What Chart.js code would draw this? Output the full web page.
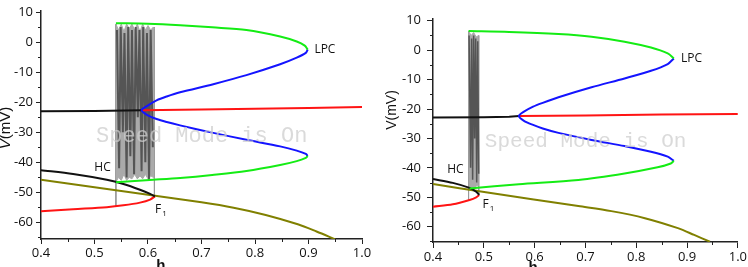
<!DOCTYPE html>
<html>
<head>
<meta charset="utf-8">
<script src="https://cdn.jsdelivr.net/npm/chart.js@4.4.1/dist/chart.umd.min.js"></script>
<style>
  html, body { margin: 0; padding: 0; background: #fff; }
  #wrap { position: relative; width: 748px; height: 267px; }
  canvas { position: absolute; top: 0; }
  #chartLeft { left: 0; }
  #chartRight { left: 374px; }
</style>
</head>
<body>
<div id="wrap">
  <canvas id="chartLeft" width="374" height="267"></canvas>
  <canvas id="chartRight" width="374" height="267"></canvas>
</div>
<script>
// axis ticks (shared by both panels)
var hTicks = [0.4, 0.5, 0.6, 0.7, 0.8, 0.9, 1.0];
var hMinorTicks = [0.45, 0.55, 0.65, 0.75, 0.85, 0.95];
var vTicks = [-60, -50, -40, -30, -20, -10, 0, 10];
var vMinorTicks = [-65, -55, -45, -35, -25, -15, -5, 5];

var watermarkText = 'Speed Mode is On';
var noteLabels = ['LPC', 'HC', 'F'];

// ---- left panel ----
var leftMidBlackH = [0.4, 0.5, 0.588];
var leftMidBlackV = [-23.0, -22.9, -22.7];
var leftMidRedH = [0.588, 0.7, 0.8, 0.9, 1.0];
var leftMidRedV = [-22.7, -22.4, -22.2, -21.9, -21.6];
var leftBlueH = [0.8985, 0.895, 0.878, 0.847, 0.784, 0.722, 0.66, 0.635, 0.616, 0.598, 0.588,
                 0.598, 0.616, 0.635, 0.66, 0.722, 0.784, 0.847, 0.878, 0.895, 0.8985];
var leftBlueV = [-2.5, -3.6, -5.2, -7.4, -11.0, -14.0, -16.7, -18.1, -19.4, -21.3, -22.7,
                 -24.2, -25.6, -26.6, -27.7, -30.2, -32.5, -34.7, -36.1, -37.2, -37.9];
var leftGreenUpH = [0.8985, 0.893, 0.878, 0.847, 0.784, 0.72, 0.66, 0.6, 0.54];
var leftGreenUpV = [-2.5, -1.2, 0.2, 1.85, 4.0, 4.9, 5.6, 6.1, 6.3];
var leftGreenLowH = [0.8985, 0.895, 0.878, 0.847, 0.784, 0.72, 0.66, 0.61, 0.54];
var leftGreenLowV = [-37.9, -38.5, -39.6, -40.9, -42.9, -44.2, -45.2, -45.8, -46.6];
var leftHcH = [0.4, 0.46, 0.523, 0.554, 0.585, 0.604, 0.613];
var leftHcV = [-42.6, -43.9, -45.8, -47.2, -49.1, -50.5, -51.3];
var leftRedLowH = [0.4, 0.46, 0.523, 0.554, 0.585, 0.604, 0.613];
var leftRedLowV = [-56.3, -55.6, -54.9, -54.3, -53.4, -52.4, -51.3];
var leftOliveH = [0.4, 0.5, 0.6, 0.7, 0.76, 0.82, 0.88, 0.915, 0.95];
var leftOliveV = [-45.8, -48.3, -50.8, -53.3, -55.1, -57.5, -60.6, -63.0, -65.6];
// bursting trace
var leftBandH = [0.54, 0.545, 0.55, 0.555, 0.56, 0.565, 0.57, 0.575, 0.58, 0.585, 0.59, 0.595, 0.6, 0.605, 0.61, 0.612];
var leftBandTopV = [6, 4, 6, 3.5, 6, 4.5, 6, 4, 6, 3.5, 6, 4, 5.5, 4, 5, 4.5];
var leftBandLowV = [-46.5, -45, -46, -44, -46, -45, -45.5, -44, -45.5, -44.5, -45.5, -44, -45.5, -44.5, -45, -45.5];
var leftSpikeH = [0.542, 0.546, 0.549, 0.553, 0.556, 0.560, 0.563, 0.567, 0.570, 0.574,
                  0.577, 0.581, 0.584, 0.588, 0.591, 0.595, 0.598, 0.602, 0.605, 0.609];
var leftSpikeV = [4, -42, 5, -30, 3, -45, 5, -38, 4, -44, 5, -25, 4, -43, 5, -40, 3, -46, 4, -35];
var leftEdgeStartH = [0.54, 0.54];
var leftEdgeStartV = [6, -54.5];
var leftEdgeEndH = [0.612, 0.612];
var leftEdgeEndV = [5, -51.3];

// ---- right panel ----
var rightMidBlackH = [0.4, 0.5, 0.55, 0.569];
var rightMidBlackV = [-22.9, -22.8, -22.6, -22.4];
var rightMidRedH = [0.569, 0.7, 0.85, 1.0];
var rightMidRedV = [-22.4, -22.2, -21.9, -21.7];
var rightBlueH = [0.874, 0.862, 0.829, 0.777, 0.712, 0.647, 0.616, 0.597, 0.579, 0.569,
                  0.579, 0.597, 0.616, 0.647, 0.712, 0.777, 0.829, 0.862, 0.874];
var rightBlueV = [-2.8, -4.7, -7.0, -9.6, -12.6, -16.0, -17.9, -19.2, -20.9, -22.4,
                  -24.0, -25.4, -26.6, -28.1, -30.5, -32.6, -34.5, -36.2, -37.6];
var rightGreenUpH = [0.874, 0.862, 0.829, 0.777, 0.712, 0.647, 0.55, 0.47];
var rightGreenUpV = [-2.8, -1.1, 0.9, 2.9, 4.6, 5.5, 6.2, 6.5];
var rightGreenLowH = [0.874, 0.868, 0.842, 0.777, 0.686, 0.569, 0.472];
var rightGreenLowV = [-37.6, -38.5, -39.8, -41.9, -44.1, -45.6, -47.0];
var rightHcH = [0.4, 0.439, 0.472, 0.485, 0.491];
var rightHcV = [-43.8, -45.1, -46.8, -48.1, -49.2];
var rightRedLowH = [0.4, 0.439, 0.472, 0.485, 0.491];
var rightRedLowV = [-53.2, -52.4, -50.9, -50.0, -49.2];
var rightOliveH = [0.4, 0.504, 0.686, 0.751, 0.817, 0.882, 0.914, 0.945];
var rightOliveV = [-45.5, -48.3, -53.0, -54.7, -57.1, -60.5, -62.8, -65.1];
var rightBandH = [0.47, 0.475, 0.48, 0.485, 0.49];
var rightBandTopV = [6.5, 5, 6, 4.5, 5];
var rightBandLowV = [-47, -46.5, -46.8, -46.2, -46];
var rightSpikeH = [0.471, 0.474, 0.476, 0.478, 0.480, 0.482, 0.484, 0.486, 0.488, 0.490];
var rightSpikeV = [5, -40, 4, -44, 5, -30, 4, -45, 3, -42];
var rightEdgeStartH = [0.47, 0.47];
var rightEdgeStartV = [6.5, -51];
var rightEdgeEndH = [0.49, 0.49];
var rightEdgeEndV = [5, -49.2];

function toPoints(hs, vs) {
    return hs.map(function (h, i) { return { x: h, y: vs[i] }; });
}

function lineSet(hs, vs, color, width, tension) {
    return {
        data: toPoints(hs, vs),
        showLine: true,
        borderColor: color,
        borderWidth: width,
        pointRadius: 0,
        tension: tension,
        fill: false
    };
}

var panelTextPlugin = {
    id: 'panelText',
    afterDatasetsDraw: function (chart, args, opts) {
        var c = chart.ctx;
        var xs = chart.scales.x;
        var ys = chart.scales.y;
        c.save();
        // watermark
        c.font = opts.markFont;
        c.fillStyle = 'rgba(205,205,205,0.75)';
        c.textAlign = 'left';
        c.textBaseline = 'middle';
        c.fillText(watermarkText, xs.getPixelForValue(opts.markAt[0]), ys.getPixelForValue(opts.markAt[1]));
        // notes
        c.fillStyle = '#111';
        opts.notes.forEach(function (n, i) {
            var px = xs.getPixelForValue(n[0]);
            var py = ys.getPixelForValue(n[1]);
            c.font = '12px "Open Sans", sans-serif';
            c.fillText(noteLabels[i], px, py);
            if (noteLabels[i] === 'F') {
                var w = c.measureText('F').width;
                c.font = '8px "Open Sans", sans-serif';
                c.fillText('1', px + w + 1, py + 4);
            }
        });
        c.restore();
    },
    afterDraw: function (chart, args, opts) {
        var c = chart.ctx;
        var xs = chart.scales.x;
        var ys = chart.scales.y;
        var area = chart.chartArea;
        c.save();
        // minor ticks
        c.strokeStyle = '#222';
        c.lineWidth = 1;
        c.beginPath();
        vMinorTicks.forEach(function (v) {
            var py = Math.round(ys.getPixelForValue(v)) + 0.5;
            if (py < area.top || py > area.bottom) return;
            c.moveTo(area.left - 3, py);
            c.lineTo(area.left, py);
        });
        hMinorTicks.forEach(function (h) {
            var px = Math.round(xs.getPixelForValue(h)) + 0.5;
            c.moveTo(px, area.bottom);
            c.lineTo(px, area.bottom + 3);
        });
        c.stroke();
        // x title
        c.fillStyle = '#111';
        c.font = 'bold 15px "Liberation Sans", Arial, sans-serif';
        c.textAlign = 'center';
        c.textBaseline = 'top';
        c.fillText('h', xs.getPixelForValue(opts.hTitleAt), opts.hTitleTop);
        // y title, rotated
        c.translate(opts.vTitleAt[0], opts.vTitleAt[1]);
        c.rotate(-Math.PI / 2);
        c.textBaseline = 'middle';
        c.textAlign = 'left';
        var italicFont = 'italic ' + opts.vTitleSize + 'px "Liberation Sans", Arial, sans-serif';
        var plainFont = opts.vTitleSize + 'px "Liberation Sans", Arial, sans-serif';
        c.font = opts.vItalic ? italicFont : plainFont;
        var wV = c.measureText('V').width;
        c.font = plainFont;
        var wRest = c.measureText('(mV)').width;
        var x0 = -(wV + wRest) / 2;
        c.font = opts.vItalic ? italicFont : plainFont;
        c.fillText('V', x0, 0);
        c.font = plainFont;
        c.fillText('(mV)', x0 + wV, 0);
        c.restore();
    }
};

function buildChart(canvasId, series, panel) {
    var ctx = document.getElementById(canvasId).getContext('2d');
    var tickFont = { family: '"Open Sans", sans-serif', size: 13 };
    return new Chart(ctx, {
        type: 'scatter',
        data: { datasets: series },
        options: {
            responsive: false,
            animation: false,
            events: [],
            layout: { padding: { top: panel.padTop, right: panel.padRight, left: 0, bottom: 0 } },
            plugins: {
                legend: { display: false },
                tooltip: { enabled: false },
                panelText: panel
            },
            scales: {
                x: {
                    type: 'linear',
                    min: 0.4,
                    max: 1.0,
                    afterFit: function (s) { s.height = panel.xAxisHeight; },
                    afterBuildTicks: function (s) {
                        s.ticks = hTicks.map(function (v) { return { value: v }; });
                    },
                    border: { color: '#222', width: 1.5 },
                    grid: { drawOnChartArea: false, drawTicks: true, tickLength: panel.tickLen, color: '#222' },
                    ticks: {
                        color: '#111',
                        font: tickFont,
                        padding: 1,
                        maxRotation: 0,
                        callback: function (v) { return Number(v).toFixed(1); }
                    }
                },
                y: {
                    type: 'linear',
                    min: panel.vMin,
                    max: panel.vMax,
                    afterFit: function (s) { s.width = panel.yAxisWidth; },
                    afterBuildTicks: function (s) {
                        s.ticks = vTicks.map(function (v) { return { value: v }; });
                    },
                    border: { color: '#222', width: 1.5 },
                    grid: { drawOnChartArea: false, drawTicks: true, tickLength: panel.tickLen, color: '#222' },
                    ticks: {
                        color: '#111',
                        font: tickFont,
                        padding: panel.yTickPad,
                        callback: function (v) { return String(v); }
                    }
                }
            }
        },
        plugins: [panelTextPlugin]
    });
}

document.addEventListener('DOMContentLoaded', function () {
    var green = '#14ec14';
    var blue = '#1414ff';
    var red = '#ff1414';
    var black = '#111111';
    var olive = '#808000';
    var darkGrey = '#555555';
    var lightGrey = '#aaaaaa';

    var leftSeries = [
        lineSet(leftGreenUpH, leftGreenUpV, green, 2, 0.3),
        lineSet(leftGreenLowH, leftGreenLowV, green, 2, 0.3),
        lineSet(leftBlueH, leftBlueV, blue, 2, 0.3),
        lineSet(leftMidRedH, leftMidRedV, red, 2, 0),
        lineSet(leftMidBlackH, leftMidBlackV, black, 2, 0),
        lineSet(leftHcH, leftHcV, black, 2, 0.3),
        lineSet(leftRedLowH, leftRedLowV, red, 2, 0.3),
        lineSet(leftOliveH, leftOliveV, olive, 2, 0.3),
        lineSet(leftSpikeH, leftSpikeV, darkGrey, 2, 0),
        Object.assign(lineSet(leftBandH, leftBandTopV, lightGrey, 1, 0), { fill: '+1', backgroundColor: lightGrey }),
        lineSet(leftBandH, leftBandLowV, lightGrey, 1, 0),
        lineSet(leftEdgeStartH, leftEdgeStartV, '#999999', 1, 0),
        lineSet(leftEdgeEndH, leftEdgeEndV, '#999999', 1, 0)
    ];

    var rightSeries = [
        lineSet(rightGreenUpH, rightGreenUpV, green, 2, 0.3),
        lineSet(rightGreenLowH, rightGreenLowV, green, 2, 0.3),
        lineSet(rightBlueH, rightBlueV, blue, 2, 0.3),
        lineSet(rightMidRedH, rightMidRedV, red, 2, 0),
        lineSet(rightMidBlackH, rightMidBlackV, black, 2, 0),
        lineSet(rightHcH, rightHcV, black, 2, 0.3),
        lineSet(rightRedLowH, rightRedLowV, red, 2, 0.3),
        lineSet(rightOliveH, rightOliveV, olive, 2, 0.3),
        lineSet(rightSpikeH, rightSpikeV, darkGrey, 1.5, 0),
        Object.assign(lineSet(rightBandH, rightBandTopV, lightGrey, 1, 0), { fill: '+1', backgroundColor: lightGrey }),
        lineSet(rightBandH, rightBandLowV, lightGrey, 1, 0),
        lineSet(rightEdgeStartH, rightEdgeStartV, '#999999', 1, 0),
        lineSet(rightEdgeEndH, rightEdgeEndV, '#999999', 1, 0)
    ];

    buildChart('chartLeft', leftSeries, {
        padTop: 7, padRight: 12, xAxisHeight: 28, yAxisWidth: 41,
        vMin: -65.5, vMax: 10.4, tickLen: 5, yTickPad: 3,
        markFont: '22px "Liberation Mono", monospace', markAt: [0.503, -31.4],
        notes: [[0.911, -2.5], [0.4996, -41.8], [0.613, -55.6]],
        hTitleAt: 0.624, hTitleTop: 258,
        vTitleAt: [6, 128], vTitleSize: 15, vItalic: true
    });

    buildChart('chartRight', rightSeries, {
        padTop: 19, padRight: 7, xAxisHeight: 25, yAxisWidth: 59,
        vMin: -65.2, vMax: 10.6, tickLen: 6, yTickPad: 6,
        markFont: '21px "Liberation Mono", monospace', markAt: [0.502, -31.1],
        notes: [[0.888, -2.8], [0.428, -40.5], [0.4976, -52.4]],
        hTitleAt: 0.597, hTitleTop: 260,
        vTitleAt: [18, 110], vTitleSize: 14, vItalic: false
    });
});
</script>
</body>
</html>
